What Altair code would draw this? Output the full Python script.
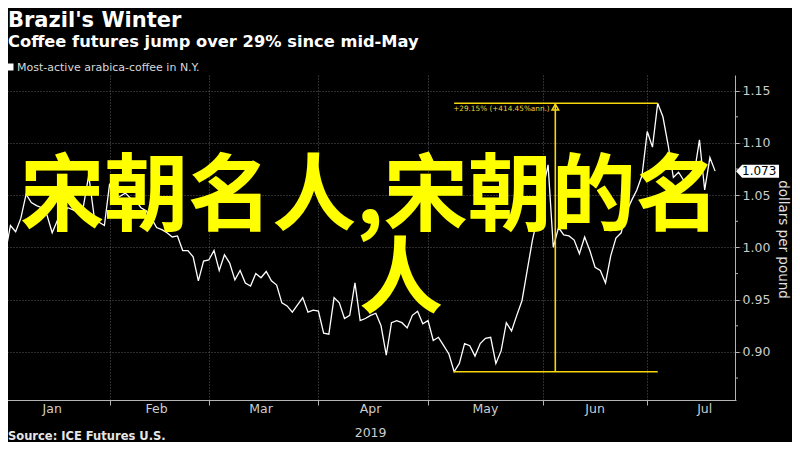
import altair as alt
import pandas as pd

# ---------------- data ----------------
holidays = ["2019-01-01", "2019-01-21", "2019-02-18", "2019-04-19", "2019-05-27", "2019-07-04"]
calendar = [d.strftime("%Y-%m-%d") for d in pd.bdate_range("2019-01-02", "2019-07-25")
            if d.strftime("%Y-%m-%d") not in holidays]

jan = [1.016, 0.994, 1.021, 1.015, 1.028, 1.051, 1.043, 1.040, 1.038, 1.031,
       1.014, 1.026, 1.031, 1.038, 1.036, 1.034, 1.040, 1.069, 1.031, 1.024, 1.021]
feb = [1.061, 1.046, 1.049, 1.052, 1.047, 1.045, 1.038, 1.035, 1.028, 1.019,
       1.017, 1.014, 1.010, 1.011, 0.997, 0.997, 0.991, 0.968, 0.987]
mar = [0.988, 0.997, 0.978, 0.993, 0.985, 0.969, 0.978, 0.966, 0.963, 0.975,
       0.971, 0.977, 0.968, 0.964, 0.947, 0.944, 0.938, 0.945, 0.952, 0.938, 0.940]
apr = [0.939, 0.918, 0.917, 0.952, 0.947, 0.932, 0.935, 0.966, 0.930, 0.932,
       0.935, 0.937, 0.925, 0.897, 0.928, 0.930, 0.928, 0.923, 0.935, 0.939, 0.927]
may = [0.930, 0.911, 0.914, 0.906, 0.898, 0.881, 0.889, 0.908, 0.906, 0.896,
       0.908, 0.913, 0.914, 0.889, 0.901, 0.928, 0.920, 0.935, 0.949, 0.978, 1.007, 1.029]
jun = [1.055, 1.079, 1.000, 1.019, 1.012, 1.011, 1.007, 0.994, 1.010, 0.997,
       0.981, 0.978, 0.966, 0.992, 1.009, 1.014, 1.034, 1.045, 1.055, 1.069]
jul = [1.111, 1.096, 1.138, 1.125, 1.098, 1.067, 1.072, 1.064, 1.069, 1.071,
       1.103, 1.055, 1.086, 1.073]

price = jan + feb + mar + apr + may + jun + jul
dates = calendar[:len(price)]

month_starts = ["2019-02-01", "2019-03-01", "2019-04-01", "2019-05-01", "2019-06-03", "2019-07-01"]
month_label_dates = ["2019-01-16", "2019-02-14", "2019-03-15", "2019-04-15",
                     "2019-05-16", "2019-06-17", "2019-07-17"]
month_labels = ["Jan", "Feb", "Mar", "Apr", "May", "Jun", "Jul"]
year_label_dates = ["2019-04-15"]
year_labels = ["2019"]

y_ticks = [0.90, 0.95, 1.00, 1.05, 1.10, 1.15]
y_minor = [0.875, 0.925, 0.975, 1.025, 1.075, 1.125]

ann_start = ["2019-05-08"]
ann_end = ["2019-07-03"]
ann_mid = ["2019-06-05"]
ann_low = [0.881]
ann_high = [1.138]
ann_text = ["+29.15% (+414.45%ann.)"]

title_text = ["Brazil's Winter"]
subtitle_text = ["Coffee futures jump over 29% since mid-May"]
legend_text = ["Most-active arabica-coffee in N.Y."]
source_text = ["Source: ICE Futures U.S."]
overlay_line1 = ["宋朝名人,宋朝的名"]
overlay_line2 = ["人"]

# ---------------- styling ----------------
AXIS = "#b4b4b4"
GRID = "#5c5c5c"
LABEL = "#cdcdcd"
ANN = "#F5D60F"
ANN_TXT = "#E9D23C"
YEL = "#FFFF00"
FONT = "DejaVu Sans"

x_scale = alt.Scale(type="point", domain=calendar, range=[-8, 728], padding=0)
y_scale = alt.Scale(domain=[0.854, 1.165], nice=False, zero=False)

x_axis = alt.Axis(values=month_starts, labels=False, title=None, tickSize=5,
                  tickColor=AXIS, domainColor=AXIS, grid=True, gridColor=GRID,
                  gridDash=[1, 2], gridWidth=1)
y_axis = alt.Axis(orient="right", values=y_ticks, format=".2f", tickSize=4,
                  labelPadding=3, labelFontSize=12.5, labelColor=LABEL, labelFont=FONT,
                  tickColor=AXIS, domainColor=AXIS, grid=True, gridColor=GRID,
                  gridDash=[1, 2], gridWidth=1,
                  title="dollars per pound", titleAngle=90, titleX=47, titleY=164,
                  titleAlign="center", titleBaseline="middle", titleFontSize=13.5,
                  titleFontWeight="normal", titleColor="#e0e0e0", titleFont=FONT)


def X(field):
    return alt.X(field, scale=x_scale, axis=x_axis)


def Y(field):
    return alt.Y(field, scale=y_scale, axis=y_axis)


df = pd.DataFrame({"date": dates, "price": price})
end_df = df.tail(1)

line = alt.Chart(df).mark_line(color="white", strokeWidth=1.3, clip=True).encode(
    x=X("date:O"), y=Y("price:Q"))

minor = alt.Chart(pd.DataFrame({"v": y_minor})).mark_rule(color=AXIS).encode(
    y=Y("v:Q"), x=alt.value(727), x2=alt.value(730))

months = alt.Chart(pd.DataFrame({"date": month_label_dates, "label": month_labels})).mark_text(
    baseline="alphabetic", fontSize=12.5, color=LABEL, font=FONT).encode(
    x=X("date:O"), y=alt.value(338), text="label:N")

years = alt.Chart(pd.DataFrame({"date": year_label_dates, "label": year_labels})).mark_text(
    baseline="alphabetic", fontSize=12.5, color=LABEL, font=FONT).encode(
    x=X("date:O"), y=alt.value(362), text="label:N")

ann_df = pd.DataFrame({"start": ann_start, "end": ann_end, "mid": ann_mid,
                       "low": ann_low, "high": ann_high, "label": ann_text})

rule_low = alt.Chart(ann_df).mark_rule(color=ANN, strokeWidth=1.6).encode(
    x=X("start:O"), x2="end:O", y=Y("low:Q"))
rule_high = alt.Chart(ann_df).mark_rule(color=ANN, strokeWidth=1.6).encode(
    x=X("start:O"), x2="end:O", y=Y("high:Q"))
rule_vert = alt.Chart(ann_df).mark_rule(color=ANN, strokeWidth=1.6, xOffset=2).encode(
    x=X("mid:O"), y=Y("low:Q"), y2="high:Q")
arrow = alt.Chart(ann_df).mark_point(shape="triangle-up", filled=False, size=45, strokeWidth=1.5,
                                     color=ANN, opacity=1, xOffset=2, yOffset=4).encode(
    x=X("mid:O"), y=Y("high:Q"))
ann_label = alt.Chart(ann_df).mark_text(align="left", baseline="middle", dx=-1, dy=6,
                                        fontSize=7.3, color=ANN_TXT, font=FONT).encode(
    x=X("start:O"), y=Y("high:Q"), text="label:N")

end_box = alt.Chart(end_df).mark_point(
    shape="M0,0 L0.29,-0.31 L2.05,-0.31 L2.05,0.31 L0.29,0.31 Z",
    size=1764, filled=True, color="white", opacity=1, strokeWidth=0).encode(
    x=alt.value(728), y=Y("price:Q"))
end_text = alt.Chart(end_df).mark_text(align="left", baseline="middle", fontSize=12,
                                       color="black", font=FONT).encode(
    x=alt.value(734), y=Y("price:Q"),
    text=alt.Text("price:Q", format=".3f"))


def label(txt, x, y, size, weight="normal", color="white", font=FONT, align="left",
          baseline="alphabetic"):
    return alt.Chart(pd.DataFrame({"t": txt})).mark_text(
        align=align, baseline=baseline, fontSize=size, fontWeight=weight, color=color,
        font=font).encode(x=alt.value(x), y=alt.value(y), text="t:N")


title = label(title_text, 0, -48, 21, "bold")
subtitle = label(subtitle_text, 0, -28, 16.3, "bold")
legend_sq = alt.Chart(pd.DataFrame({"t": legend_text})).mark_square(
    size=49, color="white", opacity=1).encode(x=alt.value(2), y=alt.value(-8))
legend_txt = label(legend_text, 9, -4, 11, color="#d8d8d8")
source = label(source_text, 0, 365, 11.5, "bold", color="#e6e6e6")

zh1 = label(overlay_line1, 362, 149, 84, "bold", YEL, "Noto Sans CJK SC", "center")
zh2 = label(overlay_line2, 393, 232, 84, "bold", YEL, "Noto Sans CJK SC", "center")

chart = alt.layer(
    line, minor, months, years, rule_low, rule_high, rule_vert, arrow, ann_label,
    end_box, end_text, title, subtitle, legend_sq, legend_txt, source, zh1, zh2
).properties(
    width=727, height=325,
    padding={"left": 0, "top": 67, "right": 57, "bottom": 42},
    autosize=alt.AutoSizeParams(type="none"),
).configure(background="#000000").configure_view(stroke=None)

chart.save("out.html", embed_options={"renderer": "svg", "actions": False})
